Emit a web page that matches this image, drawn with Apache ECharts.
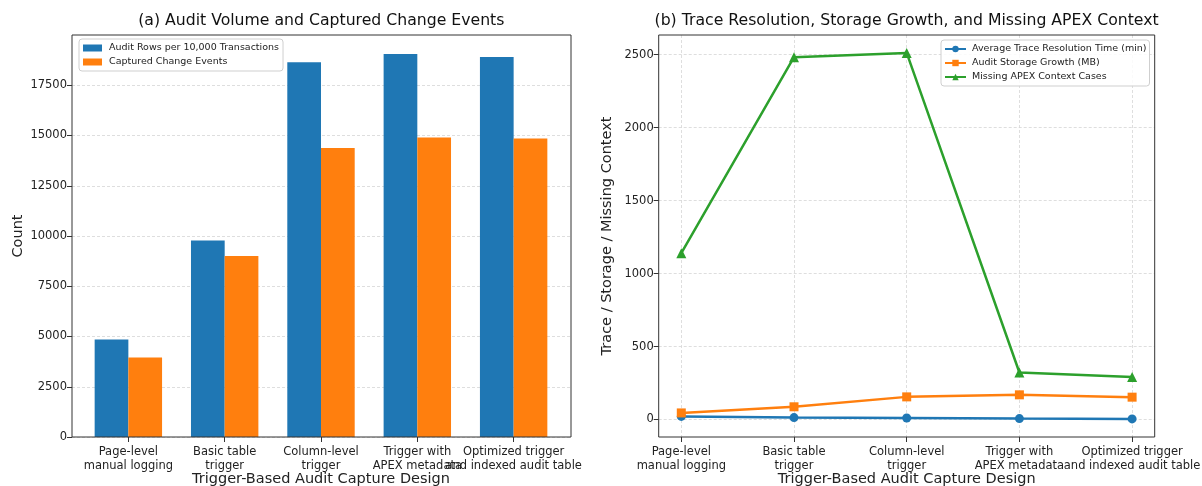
<!DOCTYPE html>
<html>
<head>
<meta charset="utf-8">
<script src="https://cdn.jsdelivr.net/npm/echarts@6/dist/echarts.min.js"></script>
<style>
html,body{margin:0;padding:0;background:#fff;}
#chart{width:1202px;height:486px;}
</style>
</head>
<body>
<div id="chart"></div>
<script>
const categories = ['Page-level\nmanual logging', 'Basic table\ntrigger', 'Column-level\ntrigger', 'Trigger with\nAPEX metadata', 'Optimized trigger\nand indexed audit table'];
const auditRows = [4850, 9780, 18650, 19050, 18900];
const capturedEvents = [3950, 9000, 14380, 14900, 14850];
const traceTime = [21, 13, 10, 6, 4];
const storageGrowth = [45, 87, 155, 169, 153];
const missingContext = [1140, 2483, 2512, 322, 291];
const leftTicks = [0, 2500, 5000, 7500, 10000, 12500, 15000, 17500];
const rightTicks = [0, 500, 1000, 1500, 2000, 2500];

const FONT = 'DejaVu Sans';
const C1 = '#1f77b4', C2 = '#ff7f0e', C3 = '#2ca02c';
const gridLine = {show: true, lineStyle: {color: '#d5d5d5', type: [3, 2], width: 0.8}};
const tickStyle = {show: true, length: 5, lineStyle: {color: '#333', width: 1}};
const labelStyle = {color: '#222', fontSize: 11.5, fontFamily: FONT};
const nameStyle = {color: '#222', fontSize: 14.5, fontFamily: FONT};
const plain = v => String(v);

const chart = echarts.init(document.getElementById('chart'), null, {renderer: 'canvas'});
chart.setOption({
  animation: false,
  backgroundColor: '#fff',
  textStyle: {fontFamily: FONT},
  graphic: [
    {type: 'text', x: 321.3, y: 13, style: {text: '(a) Audit Volume and Captured Change Events', textAlign: 'center', fill: '#111', font: '15.7px "DejaVu Sans"'}},
    {type: 'text', x: 906.6, y: 13, style: {text: '(b) Trace Resolution, Storage Growth, and Missing APEX Context', textAlign: 'center', fill: '#111', font: '15.7px "DejaVu Sans"'}}
  ],
  grid: [
    {left: 72, top: 35, width: 499, height: 402, show: true, z: 5, borderColor: '#333', borderWidth: 1, backgroundColor: 'transparent', outerBoundsMode: 'none', containLabel: false},
    {left: 80.2, top: 35, width: 481.6, height: 402, outerBoundsMode: 'none', containLabel: false},
    {left: 658.7, top: 35, width: 496, height: 402, show: true, z: 5, borderColor: '#333', borderWidth: 1, backgroundColor: 'transparent', outerBoundsMode: 'none', containLabel: false},
    {left: 681.3, top: 35, width: 450.8, height: 402, outerBoundsMode: 'none', containLabel: false}
  ],
  legend: [
    {data: ['Audit Rows per 10,000 Transactions', 'Captured Change Events'], orient: 'vertical', left: 79, top: 39, z: 10,
     icon: 'rect', itemWidth: 19, itemHeight: 7, itemGap: 2, padding: [3, 4, 3, 4],
     borderColor: '#cfcfcf', borderWidth: 1, borderRadius: 3, backgroundColor: 'rgba(255,255,255,0.85)',
     textStyle: {fontSize: 9.5, lineHeight: 12, color: '#222', fontFamily: FONT, padding: [0, 0, 0, 2]}},
    {data: ['Average Trace Resolution Time (min)', 'Audit Storage Growth (MB)', 'Missing APEX Context Cases'], orient: 'vertical', left: 941, top: 40, z: 10,
     itemWidth: 21, itemHeight: 8, itemGap: 2, padding: [3, 3, 3, 3],
     borderColor: '#cfcfcf', borderWidth: 1, borderRadius: 3, backgroundColor: 'rgba(255,255,255,0.85)',
     textStyle: {fontSize: 9.5, lineHeight: 12, color: '#222', fontFamily: FONT, padding: [0, 0, 0, 1]}}
  ],
  xAxis: [
    {type: 'value', gridIndex: 0, show: false, min: 0, max: 1},
    {type: 'category', gridIndex: 1, data: categories,
     axisLine: {show: false, onZero: false}, axisTick: Object.assign({alignWithLabel: true}, tickStyle),
     axisLabel: Object.assign({interval: 0, hideOverlap: false, margin: 8, lineHeight: 14}, labelStyle),
     name: 'Trigger-Based Audit Capture Design', nameLocation: 'middle', nameGap: 35, nameMoveOverlap: false, nameTextStyle: nameStyle},
    {type: 'value', gridIndex: 2, show: false, min: 0, max: 1},
    {type: 'category', gridIndex: 3, data: categories, boundaryGap: false,
     axisLine: {show: false, onZero: false}, axisTick: Object.assign({alignWithLabel: true}, tickStyle),
     axisLabel: Object.assign({interval: 0, hideOverlap: false, margin: 8, lineHeight: 14}, labelStyle),
     splitLine: gridLine,
     name: 'Trigger-Based Audit Capture Design', nameLocation: 'middle', nameGap: 35, nameMoveOverlap: false, nameTextStyle: nameStyle}
  ],
  yAxis: [
    {type: 'value', gridIndex: 0, min: 0, max: 20000, interval: 2500,
     axisLine: {show: false}, axisTick: Object.assign({customValues: leftTicks}, tickStyle),
     axisLabel: Object.assign({customValues: leftTicks, margin: 5, formatter: plain}, labelStyle),
     splitLine: gridLine,
     name: 'Count', nameLocation: 'middle', nameGap: 46, nameMoveOverlap: false, nameTextStyle: nameStyle},
    {type: 'value', gridIndex: 1, min: 0, max: 20000, show: false},
    {type: 'value', gridIndex: 2, min: -120, max: 2635,
     axisLine: {show: false}, axisTick: Object.assign({customValues: rightTicks}, tickStyle),
     axisLabel: Object.assign({customValues: rightTicks, margin: 5, formatter: plain}, labelStyle),
     splitLine: gridLine,
     name: 'Trace / Storage / Missing Context', nameLocation: 'middle', nameGap: 44, nameMoveOverlap: false, nameTextStyle: nameStyle},
    {type: 'value', gridIndex: 3, min: -120, max: 2635, show: false}
  ],
  series: [
    {name: 'Audit Rows per 10,000 Transactions', type: 'bar', xAxisIndex: 1, yAxisIndex: 1, data: auditRows,
     barWidth: 33.7, barGap: '0%', itemStyle: {color: C1}},
    {name: 'Captured Change Events', type: 'bar', xAxisIndex: 1, yAxisIndex: 1, data: capturedEvents,
     barWidth: 33.7, barGap: '0%', itemStyle: {color: C2}},
    {name: 'Average Trace Resolution Time (min)', type: 'line', xAxisIndex: 3, yAxisIndex: 3, data: traceTime,
     symbol: 'circle', symbolSize: 9, lineStyle: {color: C1, width: 2.5}, itemStyle: {color: C1}},
    {name: 'Audit Storage Growth (MB)', type: 'line', xAxisIndex: 3, yAxisIndex: 3, data: storageGrowth,
     symbol: 'rect', symbolSize: 9, lineStyle: {color: C2, width: 2.5}, itemStyle: {color: C2}},
    {name: 'Missing APEX Context Cases', type: 'line', xAxisIndex: 3, yAxisIndex: 3, data: missingContext,
     symbol: 'triangle', symbolSize: 10, lineStyle: {color: C3, width: 2.5}, itemStyle: {color: C3}}
  ]
});
</script>
</body>
</html>
